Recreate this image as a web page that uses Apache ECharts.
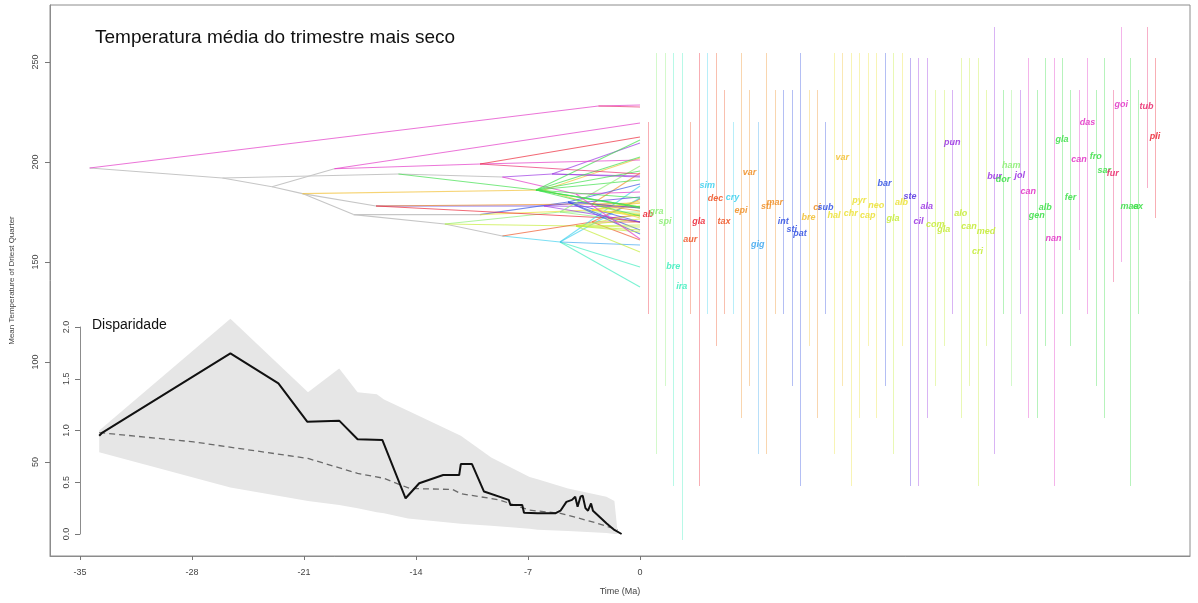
<!DOCTYPE html>
<html><head><meta charset="utf-8">
<style>html,body{margin:0;padding:0;background:#fff}#c{width:1198px;height:603px}</style>
<script src="https://cdn.jsdelivr.net/npm/echarts@6/dist/echarts.min.js"></script>
</head><body><div id="c"></div>
<script>
// ---------- DATA ----------
const xTickLabels = [-35, -28, -21, -14, -7, 0];
const yTickLabels = [50, 100, 150, 200, 250];
const insetTickLabels = [0, 0.5, 1, 1.5, 2];

// colour families (rainbow)
const palette = ['#ec2a3a','#ee5a2c','#f0922c','#f2c23a','#ece23c','#c6ec3c','#8eee78','#42e04e','#44eec0','#44d2ee','#44aaee','#3a58e2','#5c3ae2','#9c3ae2','#e23ac8','#ea3070'];

const tipNames = ['ab','gra','spi','bre','ira','aur','gla','sim','dec','tax','cry','epi','var','gig','sti','mar','int','sti','pat','bre','ci','sub','hal','var','chr','pyr','cap','neo','bar','gla','alb','ste','cil','ala','com','gla','pun','alo','can','cri','med','bur','dor','ham','jol','can','gen','alb','nan','gla','fer','can','das','fro','sar','fur','goi','maa','ex','tub','pli'];
const tipMeans = [173.5,175,170,147.5,137.5,161,170,188,181.5,170,182,175.5,194.5,158.5,177.5,179.5,170,166,164,172,177,177,173,202,174,180.5,173,178,189,171.5,179.5,182.5,170,177.5,168.5,166,209.5,174,167.5,155,165,192.5,191,198,193,185,173,177,161.5,211,182,201,219.5,202.5,195.5,194,228.5,177.5,177.5,227.5,212.5];
const tipMin = [124,54,88,38,11,124,38,124,108,124,124,72,88,54,54,124,124,88,38,108,72,124,54,88,38,72,108,72,88,54,108,38,38,72,88,108,124,72,88,38,108,54,124,88,124,72,72,108,38,124,108,156,124,88,72,140,150,38,124,187,172];
const tipMax = [220,254.5,254.5,254.5,254.5,220,254.5,254.5,254.5,236,220,254.5,236,220,254.5,236,236,236,254.5,236,236,220,254.5,254.5,254.5,254.5,254.5,254.5,254.5,254.5,254.5,252,252,252,236,236,236,252,252,252,236,267.5,236,236,236,252,236,252,252,252,236,236,252,236,252,236,267.5,252,236,267.5,252];
const tipFam = [0,6,6,8,8,1,0,9,1,1,9,2,2,10,2,2,11,11,11,3,2,11,4,3,4,4,4,4,11,5,4,12,13,13,5,5,13,5,5,5,5,13,7,6,13,14,7,7,14,7,7,14,14,7,7,15,14,7,7,15,0];
const tipParent = [26,20,20,18,18,25,26,18,25,25,18,24,24,18,24,24,17,17,17,23,24,17,22,23,22,22,22,22,17,21,22,16,16,16,21,21,14,21,21,21,21,14,19,20,14,15,19,19,15,19,19,10,9,19,19,10,1,19,19,1,10];

// internal nodes of the tree (time in Ma, trait value)
const nodeTime   = [-34.4,-2.6,-26.1,-23.0,-21.1,-17.9,-12.2,-15.1,-8.6,-19.1,-10.0,-16.5,-10.0,-8.6,-5.5,-4.0,-6.0,-4.5,-5.0,-6.5,-5.0,-4.0,-3.0,-6.0,-3.0,-3.0,-2.0];
const nodeValue  = [197,228,192,187.6,184.2,173.7,169,194,192.5,196.6,199,178,173.7,163,194,184,178,180,160,186,175,168,176,186,179,170,172];
const nodeParent = [-1,0,0,2,3,4,5,2,7,3,9,4,5,6,8,8,11,12,13,7,6,6,12,4,11,13,11];
const nodeFam    = [-1,14,-1,-1,-1,-1,-1,-1,-1,-1,14,-1,-1,-1,13,14,12,11,9,7,6,5,4,3,2,1,0];

// disparity through time
const dttTime  = [-33.8,-33.6,-25.6,-22.6,-20.8,-18.8,-17.65,-16.1,-14.65,-13.8,-12.3,-11.3,-11.2,-10.5,-9.75,-8.2,-8.1,-7.36,-7.25,-6.4,-5.3,-4.97,-4.6,-4.25,-4.05,-3.9,-3.72,-3.58,-3.41,-3.25,-3.06,-2.94,-2.1,-1.6,-1.15];
const dttValue = [0.95,0.98,1.746,1.456,1.085,1.095,0.915,0.908,0.345,0.49,0.57,0.57,0.676,0.676,0.41,0.33,0.28,0.28,0.206,0.2,0.2,0.225,0.31,0.33,0.36,0.264,0.36,0.37,0.25,0.225,0.295,0.225,0.103,0.039,0.0];
const medTime  = [-33.8,-27.9,-20.75,-17.65,-16,-14.4,-11.7,-11.2,-8.8,-6.9,-4.97,-2.8,-1.4];
const medValue = [0.98,0.89,0.73,0.586,0.538,0.44,0.43,0.39,0.33,0.23,0.2,0.11,0.04];
const bandTime  = [-33.8,-25.6,-20.75,-18.8,-17.65,-16.45,-16,-14.5,-11.2,-9.3,-6.9,-6.4,-4.5,-2.1,-1.6,-1.4];
const bandUpper = [1.0,2.08,1.37,1.6,1.37,1.35,1.3,1.19,0.95,0.74,0.55,0.53,0.44,0.36,0.32,0.02];
const bandLower = [0.79,0.45,0.32,0.28,0.25,0.21,0.2,0.15,0.1,0.08,0.05,0.04,0.03,0.01,0.0,0.0];

// ---------- BUILD ----------
const FONT = '"Liberation Sans", Arial, sans-serif';
const edges = [];
for (let i = 1; i < nodeTime.length; i++) {
  const p = nodeParent[i];
  edges.push([nodeTime[p], nodeValue[p], nodeTime[i], nodeValue[i], nodeFam[i]]);
}
for (let i = 0; i < tipNames.length; i++) {
  const p = tipParent[i];
  edges.push([nodeTime[p], nodeValue[p], 0, tipMeans[i], tipFam[i]]);
}
edges.sort((a, b) => (a[4] < 0 ? 0 : 1) - (b[4] < 0 ? 0 : 1));

const rangeData = tipNames.map((n, i) => [i, tipMin[i], tipMax[i], tipFam[i]]);
const labelData = tipNames.map((n, i) => [i, tipMeans[i], tipFam[i]]);

const axisTxt = {fontSize: 9, fontFamily: FONT, color: '#444'};
const chart = echarts.init(document.getElementById('c'), null, {renderer: 'canvas'});
chart.setOption({
  animation: false,
  backgroundColor: '#fff',
  title: [
    {text: 'Temperatura média do trimestre mais seco', left: 95, top: 28, padding: 0,
     textStyle: {fontFamily: FONT, fontSize: 19, fontWeight: 'normal', color: '#111'}},
    {text: 'Disparidade', left: 92, top: 318, padding: 0,
     textStyle: {fontFamily: FONT, fontSize: 14, fontWeight: 'normal', color: '#111'}}
  ],
  grid: [
    {left: 50, right: 8, top: 5, bottom: 47, show: true, borderColor: '#8c8c8c', borderWidth: 1, backgroundColor: 'transparent'},
    {left: 80, right: 558, top: 327, bottom: 69},
    {left: 643.8, right: 38.8, top: 5, bottom: 47}
  ],
  xAxis: [
    {gridIndex: 0, type: 'value', min: -36.875, max: 34.375, position: 'bottom',
     axisLine: {show: true, onZero: false, lineStyle: {color: '#8c8c8c'}},
     axisTick: {show: true, customValues: xTickLabels, length: 4, lineStyle: {color: '#777'}},
     axisLabel: Object.assign({customValues: xTickLabels, formatter: v => String(v), margin: 12}, axisTxt),
     splitLine: {show: false},
     name: 'Time (Ma)', nameLocation: 'middle', nameGap: 31, nameTextStyle: axisTxt},
    {gridIndex: 1, type: 'value', min: -35, max: 0, show: false, axisLine: {onZero: false}},
    {gridIndex: 2, type: 'category', data: tipNames, show: false, boundaryGap: true, axisLine: {onZero: false}}
  ],
  yAxis: [
    {gridIndex: 0, type: 'value', min: 3, max: 278.5, position: 'left',
     axisLine: {show: true, onZero: false, lineStyle: {color: '#8c8c8c'}},
     axisTick: {show: true, customValues: yTickLabels, length: 5, lineStyle: {color: '#777'}},
     axisLabel: Object.assign({customValues: yTickLabels, rotate: 90, margin: 10}, axisTxt),
     splitLine: {show: false},
     name: 'Mean Temperature of Driest Quarter', nameLocation: 'middle', nameGap: 34, nameRotate: 90,
     nameTextStyle: {fontSize: 8, fontFamily: FONT, color: '#444'}},
    {gridIndex: 1, type: 'value', min: 0, max: 2, position: 'left',
     axisLine: {show: true, onZero: false, lineStyle: {color: '#8c8c8c'}},
     axisTick: {show: true, customValues: insetTickLabels, length: 5, lineStyle: {color: '#777'}},
     axisLabel: Object.assign({customValues: insetTickLabels, formatter: v => v.toFixed(1), rotate: 90, margin: 9}, axisTxt),
     splitLine: {show: false}},
    {gridIndex: 2, type: 'value', min: 3, max: 278.5, show: false, axisLine: {onZero: false}}
  ],
  series: [
    {type: 'custom', xAxisIndex: 0, yAxisIndex: 0, data: edges, encode: {x: [0, 2], y: [1, 3]}, z: 2,
     renderItem: (params, api) => {
       const a = api.coord([api.value(0), api.value(1)]);
       const b = api.coord([api.value(2), api.value(3)]);
       const f = api.value(4);
       return {type: 'line', shape: {x1: a[0], y1: a[1], x2: b[0], y2: b[1]},
               style: {stroke: f < 0 ? '#c6c6c6' : palette[f], lineWidth: 1.1, opacity: f < 0 ? 1 : 0.7}};
     }},
    {type: 'custom', xAxisIndex: 1, yAxisIndex: 1, data: [[0]], z: 3, clip: false,
     renderItem: (params, api) => {
       const pts = [];
       for (let i = 0; i < bandTime.length; i++) pts.push(api.coord([bandTime[i], bandUpper[i]]));
       for (let i = bandTime.length - 1; i >= 0; i--) pts.push(api.coord([bandTime[i], bandLower[i]]));
       return {type: 'polygon', shape: {points: pts}, style: {fill: '#e6e6e6'}};
     }},
    {type: 'line', xAxisIndex: 1, yAxisIndex: 1, data: medTime.map((t, i) => [t, medValue[i]]), z: 4,
     symbol: 'none', clip: false, lineStyle: {color: '#6a6a6a', width: 1.3, type: [6, 4]}},
    {type: 'line', xAxisIndex: 1, yAxisIndex: 1, data: dttTime.map((t, i) => [t, dttValue[i]]), z: 5,
     symbol: 'none', clip: false, lineStyle: {color: '#111', width: 2}},
    {type: 'custom', xAxisIndex: 2, yAxisIndex: 2, data: rangeData, z: 2,
     renderItem: (params, api) => {
       const a = api.coord([api.value(0), api.value(1)]);
       const b = api.coord([api.value(0), api.value(2)]);
       const f = api.value(3);
       return {type: 'line', shape: {x1: Math.round(a[0]) + 0.5, y1: a[1], x2: Math.round(b[0]) + 0.5, y2: b[1]},
               style: {stroke: palette[f], lineWidth: 1, opacity: 0.38}};
     }},
    {type: 'custom', xAxisIndex: 2, yAxisIndex: 2, data: labelData, z: 6,
     renderItem: (params, api) => {
       const p = api.coord([api.value(0), api.value(1)]);
       const f = api.value(2);
       return {type: 'text', x: p[0], y: p[1],
               style: {text: tipNames[params.dataIndex], fill: palette[f], opacity: 0.9,
                       font: 'italic bold 9px ' + FONT, align: 'center', verticalAlign: 'middle'}};
     }}
  ]
});
</script></body></html>
